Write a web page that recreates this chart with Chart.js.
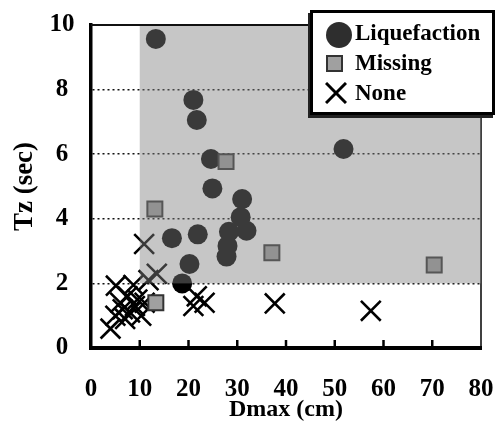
<!DOCTYPE html>
<html><head><meta charset="utf-8">
<script src="https://cdn.jsdelivr.net/npm/chart.js@4/dist/chart.umd.min.js"></script>
<style>
html,body{margin:0;padding:0;background:#fff;}
#wrap{position:relative;width:498px;height:432px;}
#legend{position:absolute;left:310px;top:10px;width:179px;height:99px;border:3px solid #000;background:#fff;box-shadow:-2px 3px 0 #222;font:bold 23px "Liberation Serif",serif;color:#000;}
#legend .t{position:absolute;left:42px;line-height:30px;white-space:nowrap;}
#legend .c{position:absolute;left:13px;top:9px;width:26px;height:26px;border-radius:50%;background:#2e2e2e;}
#legend .s{position:absolute;left:13px;top:42px;width:17px;height:17px;box-sizing:border-box;border:2.5px solid #333;background:#a0a0a0;}
#legend svg{position:absolute;left:12px;top:69px;}
</style></head>
<body>
<div id="wrap">
<canvas id="c" width="498" height="432"></canvas>
<div id="legend">
  <div class="c"></div><div class="t" style="top:5px">Liquefaction</div>
  <div class="s"></div><div class="t" style="top:35px">Missing</div>
  <svg width="22" height="22"><line x1="1" y1="1" x2="21" y2="21" stroke="#000" stroke-width="3"/><line x1="21" y1="1" x2="1" y2="21" stroke="#000" stroke-width="3"/></svg><div class="t" style="top:65px">None</div>
</div>
</div>
<script>
// Data
const liqX = [13.3, 21.0, 21.7, 24.6, 24.9, 31.0, 30.7, 31.9, 28.3, 28.0, 27.8, 16.6, 21.9, 20.2, 18.7, 51.8];
const liqY = [9.57, 7.68, 7.06, 5.85, 4.94, 4.61, 4.05, 3.63, 3.60, 3.16, 2.83, 3.40, 3.52, 2.60, 2.00, 6.16];
const missX = [27.7, 13.1, 37.1, 70.4, 13.3];
const missY = [5.77, 4.30, 2.95, 2.57, 1.40];
const noneX = [4.0, 5.0, 5.1, 6.0, 6.5, 7.0, 7.5, 8.0, 8.7, 9.0, 9.5, 10.3, 11.0, 11.8, 13.5, 10.9, 21.0, 21.7, 23.3, 37.7, 57.4];
const noneY = [0.6, 1.0, 1.93, 1.4, 1.2, 0.9, 1.6, 1.1, 1.95, 1.3, 1.5, 1.0, 1.4, 2.1, 2.3, 3.22, 1.3, 1.6, 1.4, 1.38, 1.15];
const xTicks = [0, 10, 20, 30, 40, 50, 60, 70, 80];
const yTicks = [0, 2, 4, 6, 8, 10];
const shadeXRange = [10, 80];
const shadeYRange = [2, 10];

const toPts = (xs, ys) => xs.map((v, i) => ({x: v, y: ys[i]}));
Chart.defaults.font.family = '"Liberation Serif", "Times New Roman", serif';
Chart.defaults.color = '#000';

const decor = {
  id: 'decor',
  beforeDatasetsDraw(chart) {
    const {ctx, chartArea: a} = chart;
    ctx.save();
    ctx.strokeStyle = '#000';
    ctx.lineWidth = 1.5;
    ctx.beginPath();
    ctx.moveTo(a.right, a.top); ctx.lineTo(a.right, a.bottom);
    ctx.stroke();
    ctx.restore();
  },
  afterDatasetsDraw(chart) {
    const {ctx, chartArea: a, scales: {x, y}} = chart;
    const x0 = x.getPixelForValue(shadeXRange[0]), x1 = x.getPixelForValue(shadeXRange[1]);
    const y0 = y.getPixelForValue(shadeYRange[1]), y1 = y.getPixelForValue(shadeYRange[0]);
    ctx.save();
    ctx.fillStyle = 'rgba(128,128,128,0.45)';
    ctx.fillRect(x0, y0, x1 - x0, y1 - y0);
    ctx.strokeStyle = '#111';
    ctx.lineWidth = 2;
    ctx.beginPath();
    ctx.moveTo(a.left, a.top); ctx.lineTo(a.right, a.top);
    ctx.stroke();
    ctx.strokeStyle = '#000';
    ctx.lineWidth = 2.5;
    xTicks.slice(1, -1).forEach(v => {
      const px = x.getPixelForValue(v);
      ctx.beginPath();
      ctx.moveTo(px, a.bottom); ctx.lineTo(px, a.bottom - 8);
      ctx.stroke();
    });
    ctx.restore();
  }
};

new Chart(document.getElementById('c'), {
  type: 'scatter',
  data: {
    datasets: [
      {label: 'Missing', data: toPts(missX, missY), order: 0, pointStyle: 'rect', pointRadius: 10.6,
       backgroundColor: '#a0a0a0', borderColor: '#333', borderWidth: 2},
      {label: 'Liquefaction', data: toPts(liqX, liqY), order: 1, pointStyle: 'circle', pointRadius: 10,
       backgroundColor: '#000', borderColor: '#000', borderWidth: 0},
      {label: 'None', data: toPts(noneX, noneY), order: 2, pointStyle: 'crossRot', pointRadius: 14,
       backgroundColor: '#000', borderColor: '#000', borderWidth: 2.6}
    ]
  },
  options: {
    responsive: false,
    animation: false,
    events: [],
    layout: {padding: {left: 0, top: 25, right: 17, bottom: 0}},
    plugins: {legend: {display: false}, tooltip: {enabled: false}},
    scales: {
      x: {
        type: 'linear', min: 0, max: 80,
        afterBuildTicks: s => { s.ticks = xTicks.map(v => ({value: v})); },
        afterFit: s => { s.height = 84; s.paddingLeft = 0; s.paddingRight = 0; },
        grid: {display: false, drawTicks: false},
        border: {display: true, color: '#000', width: 4},
        ticks: {padding: 27, font: {size: 25, weight: 'bold', lineHeight: 1.2}, color: '#000'},
        title: {display: true, text: 'Dmax (cm)', font: {size: 24, weight: 'bold', lineHeight: 1.2},
                padding: {top: 0, bottom: 7.6}, color: '#000'}
      },
      y: {
        type: 'linear', min: 0, max: 10,
        afterBuildTicks: s => { s.ticks = yTicks.map(v => ({value: v})); },
        afterFit: s => { s.width = 91; s.paddingTop = 0; s.paddingBottom = 0; },
        grid: {display: true, drawTicks: false, lineWidth: 1.6,
               color: c => (c.tick && c.tick.value > 0 && c.tick.value < 10) ? '#111' : 'rgba(0,0,0,0)'},
        border: {display: true, color: '#000', width: 3.5, dash: [2, 3]},
        ticks: {padding: 16.5, crossAlign: 'center', font: {size: 25, weight: 'bold', lineHeight: 1.2}, color: '#000'},
        title: {display: true, text: 'Tz (sec)', font: {size: 27, weight: 'bold', lineHeight: 1.2},
                padding: {top: 8.8, bottom: 0}, color: '#000'}
      }
    }
  },
  plugins: [decor]
});
</script>
</body></html>
